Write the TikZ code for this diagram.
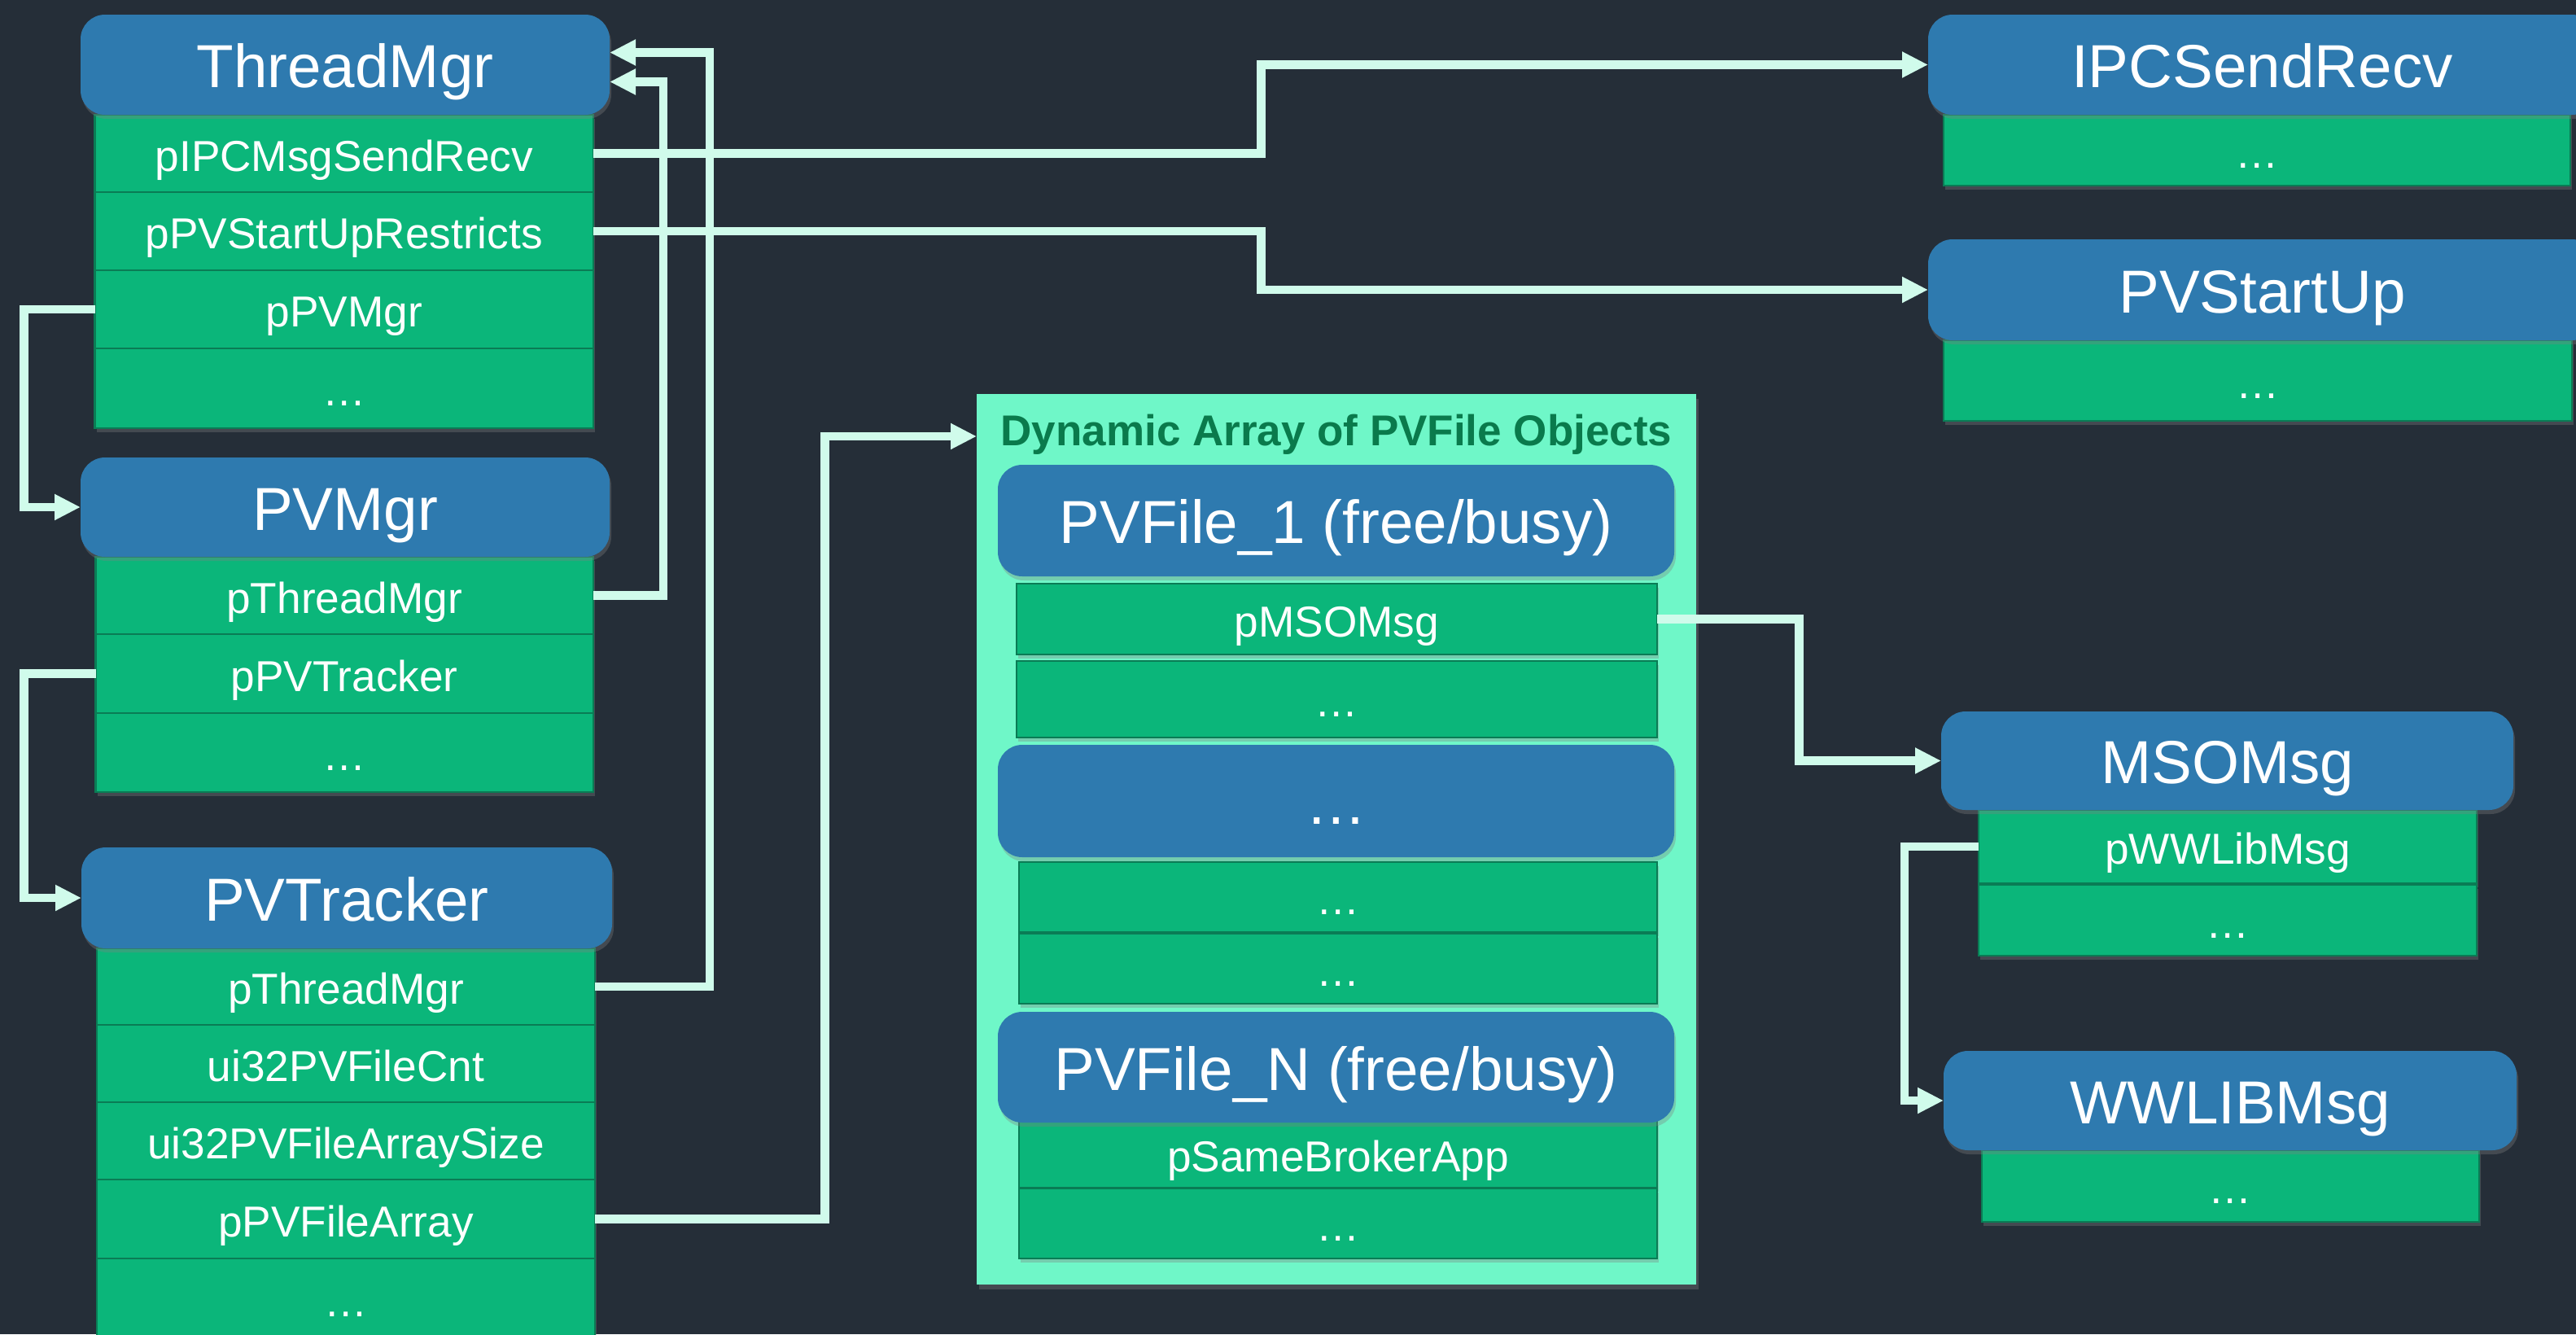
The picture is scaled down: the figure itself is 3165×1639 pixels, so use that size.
\documentclass[tikz,border=0pt]{standalone}
\usepackage{fontspec}
\setmainfont{Liberation Sans}
\usetikzlibrary{arrows.meta,shadows}

\definecolor{bgc}{HTML}{252E38}
\definecolor{hblue}{HTML}{2E7AAF}
\definecolor{rgreen}{HTML}{0BB67A}
\definecolor{rline}{HTML}{0A7C55}
\definecolor{wirec}{HTML}{D0FBEB}
\definecolor{mint}{HTML}{6FF7C8}
\definecolor{ttl}{HTML}{0A7A4C}

% box helper: style, name, left, top, right, bottom, text
\newcommand{\mkbox}[7]{%
  \node[#1, anchor=north west, minimum width={(#5-#3)*0.5pt},
        minimum height={(#6-#4)*0.5pt}] (#2) at (#3,#4) {#7};}

\begin{document}
\begin{tikzpicture}[x=0.5pt, y=-0.5pt,
  hdr/.style={fill=hblue, rounded corners=15pt, text=white, inner sep=0pt, outer sep=0pt,
    font=\fontsize{37.3pt}{40pt}\selectfont, text height=28pt, text depth=0pt,
    drop shadow={shadow xshift=1pt, shadow yshift=-2.5pt, opacity=0.35}},
  fld/.style={fill=rgreen, draw=rline, line width=1.4pt, text=white, inner sep=0pt, outer sep=0pt,
    font=\fontsize{26.6pt}{29pt}\selectfont, text height=21.5pt, text depth=0pt,
    drop shadow={shadow xshift=1pt, shadow yshift=-2.5pt, opacity=0.35}},
  panel/.style={fill=mint, inner sep=0pt, outer sep=0pt,
    drop shadow={shadow xshift=1.5pt, shadow yshift=-3pt, opacity=0.35}},
  link/.style={draw=wirec, line width=5.35pt, line join=miter},
  ptr/.style={link, -{Triangle[length=16pt,width=15pt]}}]

\useasboundingbox (0,0) rectangle (3165,1639);
\fill[bgc] (0,0) rectangle (3165,1639);
\clip (0,0) rectangle (3165,1639);

% ThreadMgr
\mkbox{fld}{tm1}{116.5}{141}{729}{236}{pIPCMsgSendRecv}
\mkbox{fld}{tm2}{116.5}{236}{729}{332}{pPVStartUpRestricts}
\mkbox{fld}{tm3}{116.5}{332}{729}{428}{pPVMgr}
\mkbox{fld}{tm4}{116.5}{428}{729}{526}{…}
\mkbox{hdr}{tm}{99}{18}{749}{141}{ThreadMgr}

% PVMgr
\mkbox{fld}{pm1}{117.5}{684}{729}{779}{pThreadMgr}
\mkbox{fld}{pm2}{117.5}{779}{729}{876}{pPVTracker}
\mkbox{fld}{pm3}{117.5}{876}{729}{973}{…}
\mkbox{hdr}{pvm}{99}{562}{749}{684}{PVMgr}

% PVTracker
\mkbox{fld}{pt1}{119}{1165}{731}{1259}{pThreadMgr}
\mkbox{fld}{pt2}{119}{1259}{731}{1354}{ui32PVFileCnt}
\mkbox{fld}{pt3}{119}{1354}{731}{1449}{ui32PVFileArraySize}
\mkbox{fld}{pt4}{119}{1449}{731}{1546}{pPVFileArray}
\mkbox{fld}{pt5}{119}{1546}{731}{1646}{…}
\mkbox{hdr}{pvt}{100}{1041}{752}{1165}{PVTracker}

% dynamic array of PVFile objects
\mkbox{panel}{arr}{1200}{484}{2084}{1578}{}
\node[font=\bfseries\fontsize{26.5pt}{30pt}\selectfont, text=ttl, anchor=base,
      inner sep=0pt] (arrtitle) at (1642,547) {Dynamic Array of PVFile Objects};

\mkbox{fld}{f1a}{1249}{717}{2036}{804}{pMSOMsg}
\mkbox{fld}{f1b}{1249}{812}{2036}{906}{…}
\mkbox{hdr}{f1}{1226}{571}{2057}{708}{PVFile\_1 (free/busy)}

\mkbox{fld}{fd1}{1252}{1059}{2036}{1145}{…}
\mkbox{fld}{fd2}{1252}{1147}{2036}{1233}{…}
\mkbox{hdr}{fd}{1226}{915}{2057}{1053}{…}

\mkbox{fld}{fn1}{1252}{1377}{2036}{1459}{pSameBrokerApp}
\mkbox{fld}{fn2}{1252}{1460}{2036}{1546}{…}
\mkbox{hdr}{fn}{1226}{1243}{2057}{1379}{PVFile\_N (free/busy)}

% IPCSendRecv and PVStartUp
\mkbox{fld}{i1}{2388}{141}{3158}{228}{…}
\mkbox{hdr}{ipc}{2369}{18}{3190}{141}{IPCSendRecv}
\mkbox{fld}{s1}{2388}{418}{3160}{517}{…}
\mkbox{hdr}{pvs}{2369}{294}{3190}{418}{PVStartUp}

% MSOMsg and WWLIBMsg
\mkbox{fld}{m1}{2431}{995}{3043}{1085}{pWWLibMsg}
\mkbox{fld}{m2}{2431}{1087}{3043}{1174}{…}
\mkbox{hdr}{mso}{2385}{874}{3088}{995}{MSOMsg}
\mkbox{fld}{w1}{2435}{1413}{3046}{1501}{…}
\mkbox{hdr}{wwl}{2388}{1291}{3092}{1413}{WWLIBMsg}

% routing lanes
\coordinate (laneL) at (29.5,0);
\coordinate (laneP) at (815,0);
\coordinate (laneT) at (872,0);
\coordinate (laneF) at (1013.5,0);
\coordinate (laneR) at (1549.5,0);
\coordinate (laneM) at (2210.5,0);
\coordinate (laneW) at (2340,0);

% pointers
\draw[ptr] (tm3.west) -- (tm3.west -| laneL) |- (pvm.west);
\draw[ptr] (pm2.west) -- (pm2.west -| laneL) |- (pvt.west);
\draw[ptr] (pm1.east) -- (pm1.east -| laneP) |- ([yshift=-10.5pt]tm.east);
\draw[ptr] (pt1.east) -- (pt1.east -| laneT) |- ([yshift=7.5pt]tm.east);
\draw[ptr] (tm1.east) -- (tm1.east -| laneR) |- (ipc.west);
\draw[ptr] (tm2.east) -- (tm2.east -| laneR) |- (pvs.west);
\draw[ptr] (pt4.east) -- (pt4.east -| laneF) |- ([yshift=-26pt]arr.north west);
\draw[ptr] (f1a.east) -- (f1a.east -| laneM) |- (mso.west);
\draw[ptr] (m1.west) -- (m1.west -| laneW) |- (wwl.west);
\end{tikzpicture}
\end{document}
